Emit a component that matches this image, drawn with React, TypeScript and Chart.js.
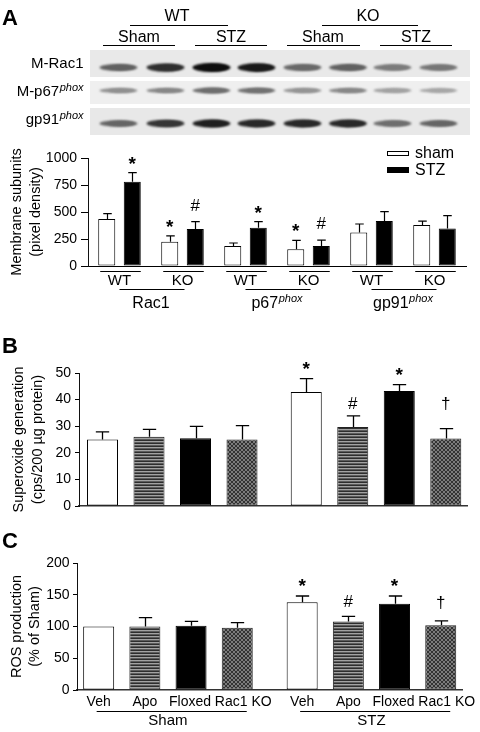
import React, { useEffect, useRef } from 'react';
import { Chart, registerables } from 'chart.js';

Chart.register(...registerables);

const FONT = "'Liberation Sans', Arial, Helvetica, sans-serif";

// ---------------- Panel A: western blot (band intensities, 0..1) ----------------
const blotGenotypes = ['WT', 'KO'];
const blotTreatments = ['Sham', 'STZ', 'Sham', 'STZ'];
const blotRowNames = ['M-Rac1', 'M-p67', 'gp91'];
const blotRowSup = ['', 'phox', 'phox'];
const bandRac1 = [0.62, 0.85, 1.0, 0.95, 0.58, 0.62, 0.5, 0.52];
const bandP67 = [0.4, 0.44, 0.56, 0.54, 0.38, 0.44, 0.32, 0.3];
const bandGp91 = [0.6, 0.82, 0.92, 0.88, 0.88, 0.88, 0.56, 0.6];

// ---------------- Panel A: quantification ----------------
const genotypeA = ['WT', 'KO', 'WT', 'KO', 'WT', 'KO'];
const subunitA = ['Rac1', 'p67', 'gp91'];
const subunitSupA = ['', 'phox', 'phox'];
const shamA = [435, 224, 185, 156, 311, 379];
const shamErrA = [50, 55, 28, 82, 78, 36];
const stzA = [780, 342, 354, 186, 416, 348];
const stzErrA = [85, 68, 56, 54, 87, 118];
const shamSigA = ['', '*', '', '*', '', ''];
const stzSigA = ['*', '#', '*', '#', '', ''];
const ticksA = [0, 250, 500, 750, 1000];
const titleA = ['Membrane subunits', '(pixel density)'];

// ---------------- Panels B & C ----------------
const groupsBC = ['Sham', 'STZ'];
const treatmentsBC = ['Veh', 'Apo', 'Floxed', 'Rac1 KO'];

const vehB = [25.0, 42.9];
const vehErrB = [2.9, 5.0];
const apoB = [26.0, 29.7];
const apoErrB = [2.8, 4.2];
const floxedB = [25.5, 43.2];
const floxedErrB = [4.4, 2.4];
const rac1koB = [25.0, 25.4];
const rac1koErrB = [5.2, 3.7];
const ticksB = [0, 10, 20, 30, 40, 50];
const titleB = ['Superoxide generation', '(cps/200 \u00b5g protein)'];

const vehC = [100, 138];
const vehErrC = [0, 10];
const apoC = [100, 108];
const apoErrC = [14, 8];
const floxedC = [101, 136];
const floxedErrC = [7, 12];
const rac1koC = [98, 102];
const rac1koErrC = [8, 7];
const ticksC = [0, 50, 100, 150, 200];
const titleC = ['ROS production', '(% of Sham)'];

const sigVeh = ['', '*'];
const sigApo = ['', '#'];
const sigFloxed = ['', '*'];
const sigRac1ko = ['', '\u2020'];

// ---------------- helpers ----------------
const SYM_FONT: Record<string, string> = {
  '*': `bold 19px ${FONT}`,
  '#': `17px ${FONT}`,
  '\u2020': `17px ${FONT}`,
};

function drawSupText(
  ctx: CanvasRenderingContext2D,
  x: number,
  cy: number,
  main: string,
  sup: string,
  mainSize: number,
  supSize: number,
  align: 'center' | 'right'
) {
  ctx.font = `${mainSize}px ${FONT}`;
  const wm = ctx.measureText(main).width;
  ctx.font = `italic ${supSize}px ${FONT}`;
  const ws = sup ? ctx.measureText(sup).width + 0.5 : 0;
  const total = wm + ws;
  const x0 = align === 'center' ? x - total / 2 : x - total;
  const base = cy + mainSize * 0.36;
  ctx.textAlign = 'left';
  ctx.textBaseline = 'alphabetic';
  ctx.font = `${mainSize}px ${FONT}`;
  ctx.fillText(main, x0, base);
  if (sup) {
    ctx.font = `italic ${supSize}px ${FONT}`;
    ctx.fillText(sup, x0 + wm + 0.5, base - mainSize * 0.34);
  }
}

function hline(ctx: CanvasRenderingContext2D, x1: number, x2: number, y: number) {
  ctx.beginPath();
  ctx.moveTo(x1, Math.round(y) + 0.5);
  ctx.lineTo(x2, Math.round(y) + 0.5);
  ctx.stroke();
}

function drawBlot(canvas: HTMLCanvasElement) {
  const ctx = canvas.getContext('2d')!;
  ctx.clearRect(0, 0, canvas.width, canvas.height);
  ctx.fillStyle = '#000';
  ctx.strokeStyle = '#000';
  ctx.lineWidth = 1;

  ctx.font = `16px ${FONT}`;
  ctx.textAlign = 'center';
  ctx.textBaseline = 'middle';
  const top = [
    { cx: 177, x1: 130, x2: 228 },
    { cx: 368, x1: 322, x2: 418 },
  ];
  top.forEach((h, i) => {
    ctx.fillText(blotGenotypes[i], h.cx, 17);
    hline(ctx, h.x1, h.x2, 25);
  });
  const sub = [
    { cx: 139, x1: 103, x2: 175 },
    { cx: 231, x1: 195, x2: 267 },
    { cx: 323, x1: 287, x2: 360 },
    { cx: 416, x1: 380, x2: 452 },
  ];
  sub.forEach((h, i) => {
    ctx.fillText(blotTreatments[i], h.cx, 38);
    hline(ctx, h.x1, h.x2, 45);
  });

  const strips = [
    { y: 50, h: 27, bg: '#e9e9e9', by: 67.5, data: bandRac1, th: 4 },
    { y: 81, h: 23, bg: '#efefef', by: 90.5, data: bandP67, th: 3 },
    { y: 108, h: 27, bg: '#e8e8e8', by: 123.5, data: bandGp91, th: 3.5 },
  ];
  const laneX = [118.5, 165.5, 211.5, 256.5, 302.5, 348, 392.5, 438.5];
  strips.forEach((s, r) => {
    ctx.fillStyle = s.bg;
    ctx.fillRect(90, s.y, 380, s.h);
    ctx.save();
    ctx.filter = 'blur(1.1px)';
    s.data.forEach((v, i) => {
      const g = Math.round(215 * (1 - v) + 15);
      ctx.fillStyle = `rgb(${g},${g},${g})`;
      const h = s.th + 5 * v;
      ctx.beginPath();
      ctx.ellipse(laneX[i], s.by, 19, h / 2, 0, 0, Math.PI * 2);
      ctx.fill();
      ctx.beginPath();
      ctx.ellipse(laneX[i] + 3, s.by, 13, (h * 0.6) / 2 + 0.5, 0, 0, Math.PI * 2);
      ctx.fill();
    });
    ctx.restore();
    ctx.fillStyle = '#000';
    const cy = [63, 90.5, 118.5][r];
    drawSupText(ctx, 83.5, cy, blotRowNames[r], blotRowSup[r], 15, 11, 'right');
  });
}

function parsedY(chart: any, i: number, j: number) {
  const p = chart.getDatasetMeta(i).controller.getParsed(j);
  return p ? p.y : 0;
}

// ---------------- Chart.js plugins ----------------
const errorBarPlugin = {
  id: 'errorBars',
  afterDatasetsDraw(chart: any, _args: any, opts: any) {
    const ctx = chart.ctx;
    const y = chart.scales.y;
    ctx.save();
    ctx.strokeStyle = '#000';
    ctx.lineWidth = opts.lineWidth || 1.2;
    chart.data.datasets.forEach((ds: any, i: number) => {
      const meta = chart.getDatasetMeta(i);
      const errs = ds.errors || [];
      meta.data.forEach((bar: any, j: number) => {
        const e = errs[j];
        if (!e) return;
        const yTop = y.getPixelForValue(parsedY(chart, i, j) + e);
        const half = (bar.width * (opts.cap || 0.42)) / 2;
        const xc = Math.round(bar.x) + 0.5;
        ctx.beginPath();
        ctx.moveTo(xc, bar.y);
        ctx.lineTo(xc, yTop);
        ctx.moveTo(xc - half, yTop);
        ctx.lineTo(xc + half, yTop);
        ctx.stroke();
      });
    });
    ctx.restore();
  },
};

const sigPlugin = {
  id: 'sigMarks',
  afterDatasetsDraw(chart: any, _args: any, opts: any) {
    const ctx = chart.ctx;
    const y = chart.scales.y;
    ctx.save();
    ctx.fillStyle = '#000';
    ctx.textAlign = 'center';
    ctx.textBaseline = 'alphabetic';
    chart.data.datasets.forEach((ds: any, i: number) => {
      const meta = chart.getDatasetMeta(i);
      const sig = ds.sig || [];
      meta.data.forEach((bar: any, j: number) => {
        const s = sig[j];
        if (!s) return;
        const yTop = y.getPixelForValue(parsedY(chart, i, j) + ((ds.errors || [])[j] || 0));
        const centerY = yTop - ((opts.offsets && opts.offsets[s]) || 14);
        ctx.font = SYM_FONT[s] || `16px ${FONT}`;
        const m = ctx.measureText(s);
        const base = centerY + (m.actualBoundingBoxAscent - m.actualBoundingBoxDescent) / 2;
        ctx.fillText(s, bar.x, base);
      });
    });
    ctx.restore();
  },
};

const boxLegendPlugin = {
  id: 'boxLegend',
  afterDraw(chart: any, _args: any, opts: any) {
    if (!opts || !opts.show) return;
    const { ctx, chartArea } = chart;
    const x0 = chartArea.right + opts.dx;
    const y0 = chartArea.top + opts.dy;
    ctx.save();
    chart.data.datasets.forEach((ds: any, i: number) => {
      const by = y0 + i * opts.spacing;
      const bh = i === 0 ? 5 : 6;
      ctx.fillStyle = ds.backgroundColor;
      ctx.fillRect(x0, by, opts.boxW, bh);
      ctx.strokeStyle = ds.borderColor;
      ctx.lineWidth = 1;
      ctx.strokeRect(x0 + 0.5, by + 0.5, opts.boxW - 1, bh - 1);
      ctx.fillStyle = '#000';
      ctx.font = `16px ${FONT}`;
      ctx.textAlign = 'left';
      ctx.textBaseline = 'middle';
      ctx.fillText(ds.label, x0 + opts.boxW + 6, by + bh / 2 + 0.5);
    });
    ctx.restore();
  },
};

const pairLabelPlugin = {
  id: 'pairLabels',
  afterDraw(chart: any, _args: any, opts: any) {
    if (!opts || !opts.show) return;
    const { ctx, chartArea } = chart;
    const b = chartArea.bottom;
    const m0 = chart.getDatasetMeta(0);
    const m1 = chart.getDatasetMeta(1);
    const xs = chart.scales.x;
    ctx.save();
    ctx.strokeStyle = '#000';
    ctx.fillStyle = '#000';
    ctx.lineWidth = 1;
    m0.data.forEach((bar: any, j: number) => {
      const r = m1.data[j];
      hline(ctx, bar.x - bar.width / 2 + 2, r.x + r.width / 2, b + 5);
    });
    subunitA.forEach((name, g) => {
      const xa = xs.getPixelForValue(2 * g);
      const xb = xs.getPixelForValue(2 * g + 1);
      hline(ctx, xa, xb + 2, b + 23);
      drawSupText(ctx, (xa + xb) / 2, b + 36, name, subunitSupA[g], 16, 11, 'center');
    });
    ctx.restore();
  },
};

const barLabelPlugin = {
  id: 'barLabels',
  afterDraw(chart: any, _args: any, opts: any) {
    if (!opts || !opts.show) return;
    const { ctx, chartArea } = chart;
    const b = chartArea.bottom;
    const nd = chart.data.datasets.length;
    const shift = opts.shift || [];
    ctx.save();
    ctx.fillStyle = '#000';
    ctx.strokeStyle = '#000';
    ctx.lineWidth = 1;
    ctx.font = `14px ${FONT}`;
    ctx.textAlign = 'center';
    ctx.textBaseline = 'middle';
    chart.data.datasets.forEach((ds: any, i: number) => {
      chart.getDatasetMeta(i).data.forEach((bar: any) => {
        ctx.fillText(ds.label, bar.x + (shift[i] || 0), b + 12);
      });
    });
    chart.data.labels.forEach((_l: any, g: number) => {
      const first = chart.getDatasetMeta(0).data[g];
      const last = chart.getDatasetMeta(nd - 1).data[g];
      hline(ctx, first.x - 2, last.x + last.width / 2 - 6, b + 20.5);
    });
    ctx.restore();
  },
};

function yScale(ticks: number[], width: number, title: string[], titlePad: number, tickLen: number, tickPad: number) {
  return {
    min: ticks[0],
    max: ticks[ticks.length - 1],
    afterBuildTicks: (s: any) => {
      s.ticks = ticks.map((v) => ({ value: v }));
    },
    afterFit: (s: any) => {
      s.width = width;
    },
    ticks: {
      font: { size: 14, family: FONT },
      color: '#000',
      padding: tickPad,
      callback: (v: any) => String(v),
    },
    grid: {
      display: true,
      drawOnChartArea: false,
      drawTicks: true,
      tickLength: tickLen,
      color: '#000',
      lineWidth: 1,
    },
    border: { display: true, color: '#111', width: 1 },
    title: {
      display: true,
      text: title,
      color: '#000',
      font: { size: 14.5, family: FONT, lineHeight: 1.27 },
      padding: { top: titlePad, bottom: 0 },
    },
  };
}

function makePatterns(canvas: HTMLCanvasElement) {
  const ctx = canvas.getContext('2d')!;
  const t1 = document.createElement('canvas');
  t1.width = 4;
  t1.height = 3;
  const g1 = t1.getContext('2d')!;
  ['#2e2e2e', '#a2a2a2', '#5c5c5c'].forEach((c, r) => {
    g1.fillStyle = c;
    g1.fillRect(0, r, 4, 1);
  });
  const t2 = document.createElement('canvas');
  t2.width = 4;
  t2.height = 4;
  const g2 = t2.getContext('2d')!;
  g2.fillStyle = '#333333';
  g2.fillRect(0, 0, 4, 4);
  g2.fillStyle = '#7c7c7c';
  for (let k = 0; k < 4; k++) {
    g2.fillRect(k, k, 1, 1);
    g2.fillRect(k, 3 - k, 1, 1);
  }
  return {
    stripes: ctx.createPattern(t1, 'repeat'),
    hatch: ctx.createPattern(t2, 'repeat'),
  };
}

function makeChartA(canvas: HTMLCanvasElement) {
  const common = { borderWidth: 1, borderSkipped: false, categoryPercentage: 0.81, barPercentage: 0.667, borderColor: '#000' };
  return new Chart(canvas, {
    type: 'bar',
    data: {
      labels: genotypeA,
      datasets: [
        { label: 'sham', data: shamA, errors: shamErrA, sig: shamSigA, backgroundColor: '#fff', ...common } as any,
        { label: 'STZ', data: stzA, errors: stzErrA, sig: stzSigA, backgroundColor: '#000', ...common } as any,
      ],
    },
    options: {
      animation: false,
      responsive: false,
      maintainAspectRatio: false,
      events: [],
      layout: { padding: { top: 18, right: 14, left: 0, bottom: 0 } },
      scales: {
        x: {
          afterFit: (s: any) => {
            s.height = 46;
          },
          grid: { display: false, drawTicks: false },
          border: { display: true, color: '#000', width: 1 },
          ticks: { font: { size: 15, family: FONT }, color: '#000', padding: 5.5, autoSkip: false, maxRotation: 0 },
        },
        y: yScale(ticksA, 88, titleA, 8, 7, 4) as any,
      },
      plugins: {
        legend: { display: false },
        tooltip: { enabled: false },
        errorBars: { cap: 0.5, lineWidth: 1.2 },
        sigMarks: { offsets: { '*': 12.5, '#': 17 } },
        boxLegend: { show: true, dx: -79, dy: -7, spacing: 16, boxW: 22 },
        pairLabels: { show: true },
      } as any,
    },
    plugins: [errorBarPlugin, sigPlugin, boxLegendPlugin, pairLabelPlugin],
  } as any);
}

function makeChartBC(
  canvas: HTMLCanvasElement,
  series: { data: number[]; err: number[]; sig: string[] }[],
  ticks: number[],
  title: string[],
  geom: {
    top: number;
    right: number;
    axisH: number;
    left: number;
    titlePad: number;
    tickPad: number;
    cp: number;
    bp: number;
    xMin: number;
    xMax: number;
  },
  showLabels: boolean,
  offsets: Record<string, number>
) {
  const pats = makePatterns(canvas);
  const fills = ['#fff', pats.stripes, '#000', pats.hatch];
  const borders = ['#000', '#222', '#000', '#222'];
  const groupIdx = groupsBC.map((_g, i) => i);
  return new Chart(canvas, {
    type: 'bar',
    data: {
      labels: groupIdx,
      datasets: series.map((s, i) => ({
        label: treatmentsBC[i],
        data: s.data,
        errors: s.err,
        sig: s.sig,
        backgroundColor: fills[i],
        borderColor: borders[i],
        borderWidth: 1,
        borderSkipped: false,
        categoryPercentage: geom.cp,
        barPercentage: geom.bp,
      })) as any,
    },
    options: {
      animation: false,
      responsive: false,
      maintainAspectRatio: false,
      events: [],
      layout: { padding: { top: geom.top, right: geom.right, left: 0, bottom: 0 } },
      scales: {
        x: {
          type: 'linear',
          offset: false,
          min: geom.xMin,
          max: geom.xMax,
          afterBuildTicks: (s: any) => {
            s.ticks = groupIdx.map((v) => ({ value: v }));
          },
          afterFit: (s: any) => {
            s.height = geom.axisH;
          },
          grid: { display: false, drawTicks: false, offset: false },
          border: { display: true, color: '#333', width: 1.6 },
          ticks: {
            display: showLabels,
            font: { size: 15, family: FONT },
            color: '#000',
            padding: 21.5,
            autoSkip: false,
            maxRotation: 0,
            callback: (v: any) => groupsBC[Math.round(v)] ?? '',
          },
        },
        y: yScale(ticks, geom.left, title, geom.titlePad, 4, geom.tickPad) as any,
      },
      plugins: {
        legend: { display: false },
        tooltip: { enabled: false },
        errorBars: { cap: 0.43, lineWidth: 1.3 },
        sigMarks: { offsets },
        barLabels: { show: showLabels, shift: [0, 0, -1, 6] },
      } as any,
    },
    plugins: [errorBarPlugin, sigPlugin, barLabelPlugin],
  } as any);
}

const letterStyle: React.CSSProperties = {
  position: 'absolute',
  left: 2,
  font: `bold 22px ${FONT}`,
  lineHeight: '22px',
  color: '#000',
};

export default function App() {
  const blotRef = useRef<HTMLCanvasElement>(null);
  const aRef = useRef<HTMLCanvasElement>(null);
  const bRef = useRef<HTMLCanvasElement>(null);
  const cRef = useRef<HTMLCanvasElement>(null);

  useEffect(() => {
    drawBlot(blotRef.current!);
    const charts = [
      makeChartA(aRef.current!),
      makeChartBC(
        bRef.current!,
        [
          { data: vehB, err: vehErrB, sig: sigVeh },
          { data: apoB, err: apoErrB, sig: sigApo },
          { data: floxedB, err: floxedErrB, sig: sigFloxed },
          { data: rac1koB, err: rac1koErrB, sig: sigRac1ko },
        ],
        ticksB,
        titleB,
        {
          top: 53,
          right: 13,
          axisH: 14,
          left: 79,
          titlePad: 10,
          tickPad: 4,
          cp: 0.913,
          bp: 0.667,
          xMin: -0.4577,
          xMax: 1.4466,
        },
        false,
        { '*': 13.5, '#': 13, '\u2020': 25 }
      ),
      makeChartBC(
        cRef.current!,
        [
          { data: vehC, err: vehErrC, sig: sigVeh },
          { data: apoC, err: apoErrC, sig: sigApo },
          { data: floxedC, err: floxedErrC, sig: sigFloxed },
          { data: rac1koC, err: rac1koErrC, sig: sigRac1ko },
        ],
        ticksC,
        titleC,
        {
          top: 33,
          right: 18,
          axisH: 42,
          left: 77,
          titlePad: 7.5,
          tickPad: 3.5,
          cp: 0.908,
          bp: 0.671,
          xMin: -0.447,
          xMax: 1.445,
        },
        true,
        { '*': 14, '#': 15.5, '\u2020': 18 }
      ),
    ];
    return () => charts.forEach((c) => c.destroy());
  }, []);

  return (
    <div
      style={{
        position: 'absolute',
        left: 0,
        top: 0,
        width: 480,
        height: 732,
        background: '#fff',
        overflow: 'hidden',
      }}
    >
      <canvas ref={blotRef} width={480} height={140} style={{ position: 'absolute', left: 0, top: 0 }} />
      <canvas ref={aRef} width={480} height={172} style={{ position: 'absolute', left: 0, top: 140 }} />
      <canvas ref={bRef} width={480} height={200} style={{ position: 'absolute', left: 0, top: 320 }} />
      <canvas ref={cRef} width={480} height={202} style={{ position: 'absolute', left: 0, top: 530 }} />
      <div style={{ ...letterStyle, top: 7 }}>A</div>
      <div style={{ ...letterStyle, top: 335 }}>B</div>
      <div style={{ ...letterStyle, top: 530 }}>C</div>
    </div>
  );
}
